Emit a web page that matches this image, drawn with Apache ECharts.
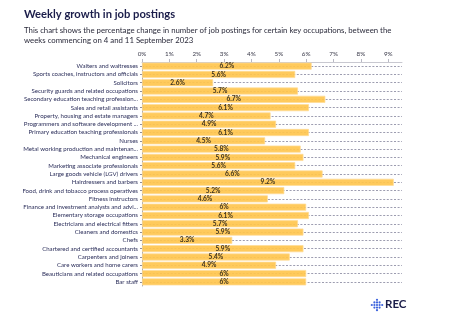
<!DOCTYPE html>
<html><head><meta charset="utf-8">
<script src="https://cdn.jsdelivr.net/npm/echarts@6/dist/echarts.min.js"></script>
<style>html,body{margin:0;padding:0;background:#fff}#c{width:451px;height:329px}</style>
</head><body><div id="c"></div>
<script>
var categories = [
  "Waiters and waitresses",
  "Sports coaches, instructors and officials",
  "Solicitors",
  "Security guards and related occupations",
  "Secondary education teaching profession...",
  "Sales and retail assistants",
  "Property, housing and estate managers",
  "Programmers and software development ...",
  "Primary education teaching professionals",
  "Nurses",
  "Metal working production and maintenan...",
  "Mechanical engineers",
  "Marketing associate professionals",
  "Large goods vehicle (LGV) drivers",
  "Hairdressers and barbers",
  "Food, drink and tobacco process operatives",
  "Fitness instructors",
  "Finance and investment analysts and advi...",
  "Elementary storage occupations",
  "Electricians and electrical fitters",
  "Cleaners and domestics",
  "Chefs",
  "Chartered and certified accountants",
  "Carpenters and joiners",
  "Care workers and home carers",
  "Beauticians and related occupations",
  "Bar staff"
];
var growth = [6.2,5.6,2.6,5.7,6.7,6.1,4.7,4.9,6.1,4.5,5.8,5.9,5.6,6.6,9.2,5.2,4.6,6,6.1,5.7,5.9,3.3,5.9,5.4,4.9,6,6];
var xTicks = [0,1,2,3,4,5,6,7,8,9];
var titleText = "Weekly growth in job postings";
var subtitleText = "This chart shows the percentage change in number of job postings for certain key occupations, between the\nweeks commencing on 4 and 11 September 2023";

var chart = echarts.init(document.getElementById('c'), null, {renderer:'canvas'});
var F = 'Lato, "Open Sans", sans-serif';
var logoDots = [];
var cx = 377, cy = 305, s = 2.6;
[[0,-2],[-1,-1],[1,-1],[-2,0],[0,0],[2,0],[-1,1],[1,1],[0,2],[0,-1],[-1,0],[1,0],[0,1]].forEach(function(p){
  logoDots.push({type:'circle', shape:{cx:cx+p[0]*s, cy:cy+p[1]*s, r:1.1}, style:{fill:'#3d63dd'}});
});
chart.setOption({
  animation:false,
  textStyle:{fontFamily:F},
  title:[
    {text:titleText, left:19, top:4, textStyle:{fontFamily:F, fontSize:11.2, fontWeight:'bold', color:'#1b1d4a'}},
    {text:subtitleText, left:19, top:20, textStyle:{fontFamily:F, fontSize:7.8, fontWeight:'normal', color:'#2a2a3a', lineHeight:10.5}}
  ],
  grid:{left:142, right:49, top:62, bottom:43, containLabel:false},
  xAxis:{
    type:'value', position:'top', min:0, max:9.5, interval:1,
    axisLine:{show:true, lineStyle:{color:'#c8c8d0', width:1}},
    axisTick:{show:true, length:3, customValues:xTicks, lineStyle:{color:'#b8b8c4'}},
    axisLabel:{customValues:xTicks, formatter:function(v){return v+'%';}, fontSize:6.3, color:'#3a3a4a', margin:5, fontFamily:F},
    splitLine:{show:false}
  },
  yAxis:{
    type:'category', data:categories, inverse:true,
    axisLine:{show:true, lineStyle:{color:'#a8a8b4', width:1}},
    axisTick:{show:true, alignWithLabel:true, interval:0, length:2, lineStyle:{color:'#8a8a9a'}},
    axisLabel:{interval:0, fontSize:6.1, color:'#2b2e5a', margin:4, fontFamily:F},
    splitLine:{show:false}
  },
  series:[
    {
      type:'bar', data:growth, barCategoryGap:'14%', z:3,
      itemStyle:{color:'#ffc54e', borderColor:'#ffdc96', borderWidth:0.8, opacity:0.92},
      label:{show:true, position:'inside', formatter:function(p){return p.value+'%';}, fontSize:6.6, fontWeight:'bold', color:'#2a2418', fontFamily:F},
      markLine:{
        silent:true, symbol:'none', z:1,
        label:{show:false},
        lineStyle:{color:'#9d9db0', type:[2,1.6], width:1},
        data:categories.map(function(c){return {yAxis:c};})
      }
    }
  ],
  graphic:logoDots.concat([
    {type:'text', left:385, top:298, style:{text:'REC', font:'bold 11.5px '+F, fill:'#1b1d4a'}}
  ])
});
</script></body></html>
